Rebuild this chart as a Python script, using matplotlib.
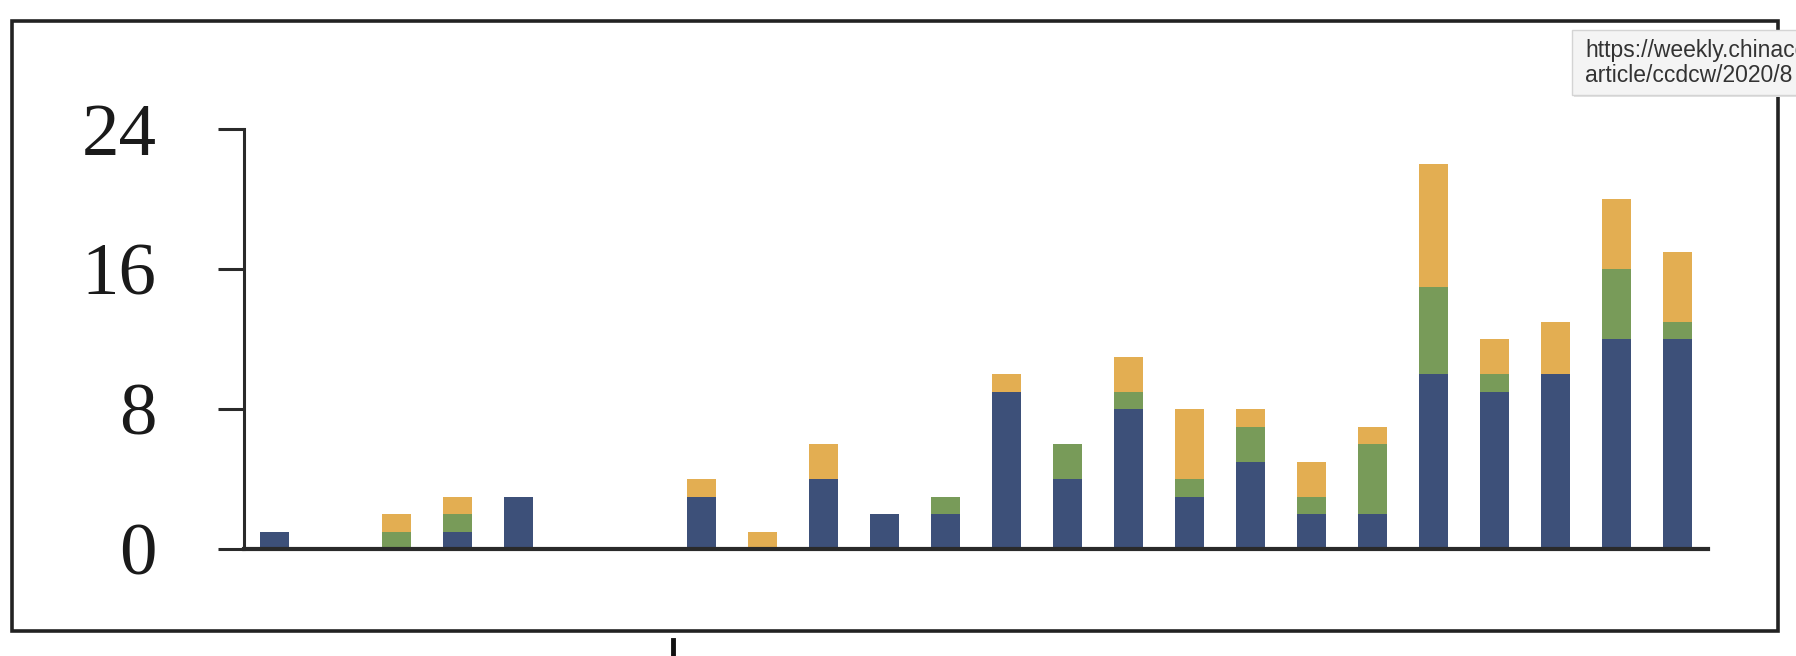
import matplotlib
matplotlib.use("Agg")
import matplotlib.pyplot as plt
from matplotlib.patches import Rectangle
from matplotlib.lines import Line2D
import numpy as np

# ---- data ----
categories = list(range(1, 25))
blue_vals = [1, 0, 0, 1, 3, 0, 0, 3, 0, 4, 2, 2, 9, 4, 8, 3, 5, 2, 2, 10, 9, 10, 12, 12]
green_vals = [0, 0, 1, 1, 0, 0, 0, 0, 0, 0, 0, 1, 0, 2, 1, 1, 2, 1, 4, 5, 1, 0, 4, 1]
orange_vals = [0, 0, 1, 1, 0, 0, 0, 1, 1, 2, 0, 0, 1, 0, 2, 4, 1, 2, 1, 7, 2, 3, 4, 4]
y_ticks = [0, 8, 16, 24]
tooltip_lines = ["https://weekly.chinacdc.cn/", "article/ccdcw/2020/8"]

W, H = 1796, 656
fig = plt.figure(figsize=(W / 100, H / 100), dpi=100)
fig.patch.set_facecolor("white")

def fx(px):
    return px / W

def fy(py):
    return 1 - py / H

ax_left, ax_right = 244, 1708
ax_top, ax_bot = 129, 549
ax = fig.add_axes([fx(ax_left), fy(ax_bot), fx(ax_right - ax_left), (ax_bot - ax_top) / H])
ax.set_facecolor("none")

x = np.arange(len(categories))
b = np.array(blue_vals)
g = np.array(green_vals)
o = np.array(orange_vals)
w = 0.47
ax.bar(x, b, width=w, color="#3D5079", linewidth=0)
ax.bar(x, g, width=w, bottom=b, color="#789B59", linewidth=0)
ax.bar(x, o, width=w, bottom=b + g, color="#E3AE52", linewidth=0)

ax.set_xlim(-0.5, len(categories) - 0.5)
ax.set_ylim(0, 24)
ax.set_yticks(y_ticks)
ax.set_yticklabels([str(t) for t in y_ticks], family="Liberation Serif", fontsize=54, color="#1a1a1a")
ax.tick_params(axis="y", direction="out", length=19, width=2.2, pad=44, color="#2a2a2a")
ax.set_xticks([])
for s in ["top", "right"]:
    ax.spines[s].set_visible(False)
ax.spines["left"].set_linewidth(2.2)
ax.spines["left"].set_color("#2a2a2a")
ax.spines["bottom"].set_linewidth(3.0)
ax.spines["bottom"].set_color("#2a2a2a")

# outer frame
fig.patches.append(Rectangle((fx(12), fy(631)), fx(1778 - 12), (631 - 21) / H,
                             transform=fig.transFigure, fill=False,
                             edgecolor="#222222", linewidth=2.6))

# small mark below the frame
fig.lines.append(Line2D([fx(673), fx(673)], [fy(640), fy(657)], transform=fig.transFigure,
                        color="#111111", linewidth=3.5))

# tooltip box (cut off at the right edge, as in the screenshot)
fig.patches.append(Rectangle((fx(1574), fy(97)), fx(300), (97 - 30) / H,
                             transform=fig.transFigure, facecolor="#e2e2e2",
                             edgecolor="none", zorder=9))
fig.patches.append(Rectangle((fx(1572), fy(95)), fx(300), (95 - 30) / H,
                             transform=fig.transFigure, facecolor="#f4f4f4",
                             edgecolor="#d4d4d4", linewidth=1.0, zorder=10))
for i, line in enumerate(tooltip_lines):
    fig.text(fx(1585), fy(50 + 26 * i), line, family="Liberation Sans", fontsize=16.5,
             color="#333333", va="center", ha="left", zorder=11)

fig.savefig("out.png", dpi=100)
